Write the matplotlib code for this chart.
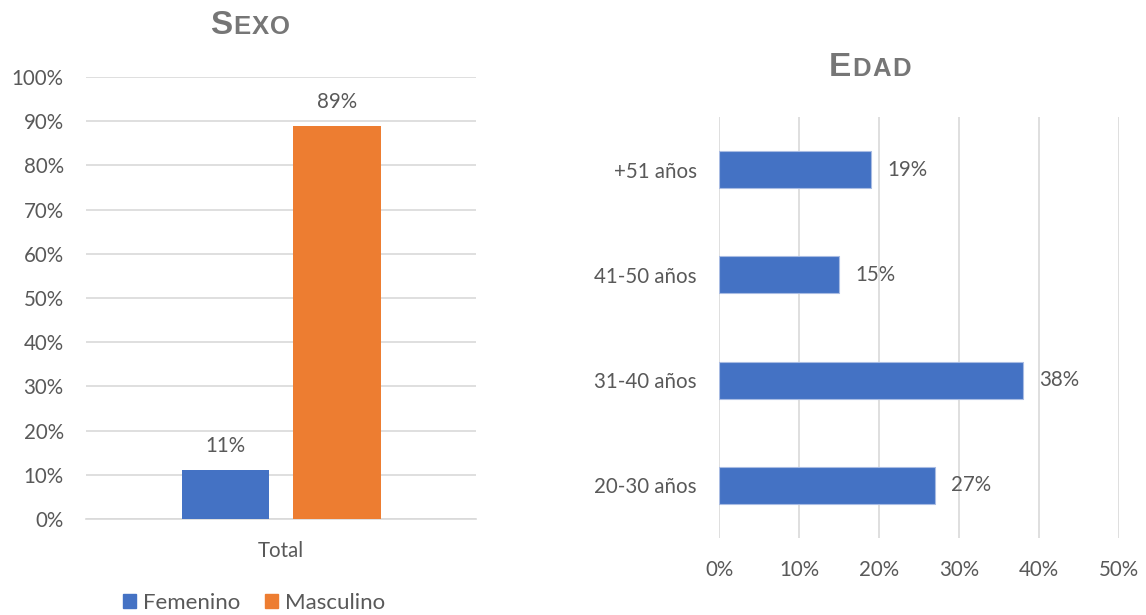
import matplotlib
matplotlib.use("Agg")
import matplotlib.pyplot as plt
from matplotlib.offsetbox import TextArea, HPacker, AnnotationBbox
from matplotlib.patches import Patch
from matplotlib.ticker import PercentFormatter

# Data
sexo_labels = ["Femenino", "Masculino"]
sexo_values = [11, 89]
sexo_category = "Total"

edad_labels = ["20-30 años", "31-40 años", "41-50 años", "+51 años"]
edad_values = [27, 38, 15, 19]

BLUE = "#4472C4"
ORANGE = "#ED7D31"
TEXT = "#595959"
TITLE = "#767676"
GRID = "#D9D9D9"
FS = 14.8

plt.rcParams["font.family"] = ["Lato", "DejaVu Sans"]

fig = plt.figure(figsize=(11.46, 6.15), dpi=100)


def small_caps_title(first, rest, xy):
    props_big = dict(fontsize=24, fontweight="bold", color=TITLE, family="Liberation Sans")
    props_small = dict(fontsize=18.5, fontweight="bold", color=TITLE, family="Liberation Sans")
    parts = [TextArea(first, textprops=props_big)]
    parts += [TextArea(ch, textprops=props_small) for ch in rest]
    box = HPacker(children=parts, align="baseline", pad=0, sep=1.0)
    ab = AnnotationBbox(box, xy, xycoords="figure fraction", frameon=False,
                        box_alignment=(0.5, 0.5))
    fig.add_artist(ab)


# ---- Left chart: Sexo ----
ax1 = fig.add_axes([86 / 1146, 96 / 615, 390 / 1146, 442 / 615])
offsets = [-0.284, 0.289]
colors = [BLUE, ORANGE]
for off, val, col in zip(offsets, sexo_values, colors):
    ax1.bar(off, val, width=0.45, color=col, zorder=3)
    ax1.annotate(f"{val}%", (off, val), xytext=(0, 10), textcoords="offset points",
                 ha="center", va="bottom", fontsize=FS, color=TEXT)
ax1.set_xlim(-1, 1)
ax1.set_ylim(0, 100)
ax1.set_yticks(range(0, 101, 10))
ax1.yaxis.set_major_formatter(PercentFormatter(decimals=0))
ax1.set_xticks([0])
ax1.set_xticklabels([sexo_category])
ax1.grid(axis="y", color=GRID, linewidth=1.2, zorder=0)
for s in ["top", "right", "left"]:
    ax1.spines[s].set_visible(False)
ax1.spines["bottom"].set_color(GRID)
ax1.spines["bottom"].set_linewidth(1.2)
ax1.tick_params(axis="both", length=0, labelsize=FS, labelcolor=TEXT, pad=16)
ax1.tick_params(axis="x", pad=16)

small_caps_title("S", "EXO", (250 / 1146, 1 - 25 / 615))

handles = [Patch(color=BLUE, label=sexo_labels[0]),
           Patch(color=ORANGE, label=sexo_labels[1])]
fig.legend(handles=handles, loc="center", bbox_to_anchor=(254 / 1146, 1 - 603 / 615),
           ncol=2, frameon=False, fontsize=16, handlelength=0.6, handleheight=0.6,
           handletextpad=0.3, columnspacing=1.1, labelcolor=TEXT)

# ---- Right chart: Edad ----
ax2 = fig.add_axes([719 / 1146, 77 / 615, 400 / 1146, 421 / 615])
ypos = range(len(edad_labels))
ax2.barh(list(ypos), edad_values, height=0.35, color=BLUE, edgecolor="#A9BCE3",
         linewidth=0.8, zorder=3)
for y, val in zip(ypos, edad_values):
    ax2.annotate(f"{val}%", (val, y), xytext=(11.5, 0), textcoords="offset points",
                 ha="left", va="center", fontsize=FS, color=TEXT)
ax2.set_xlim(0, 50)
ax2.set_ylim(-0.5, len(edad_labels) - 0.5)
ax2.set_yticks(list(ypos))
ax2.set_yticklabels(edad_labels)
ax2.set_xticks(range(0, 51, 10))
ax2.xaxis.set_major_formatter(PercentFormatter(decimals=0))
ax2.grid(axis="x", color=GRID, linewidth=1.2, zorder=0)
for s in ax2.spines.values():
    s.set_visible(False)
ax2.tick_params(axis="both", length=0, labelsize=FS, labelcolor=TEXT, pad=16)

small_caps_title("E", "DAD", (870 / 1146, 1 - 68 / 615))

fig.savefig("out.png", dpi=100, facecolor="white")
